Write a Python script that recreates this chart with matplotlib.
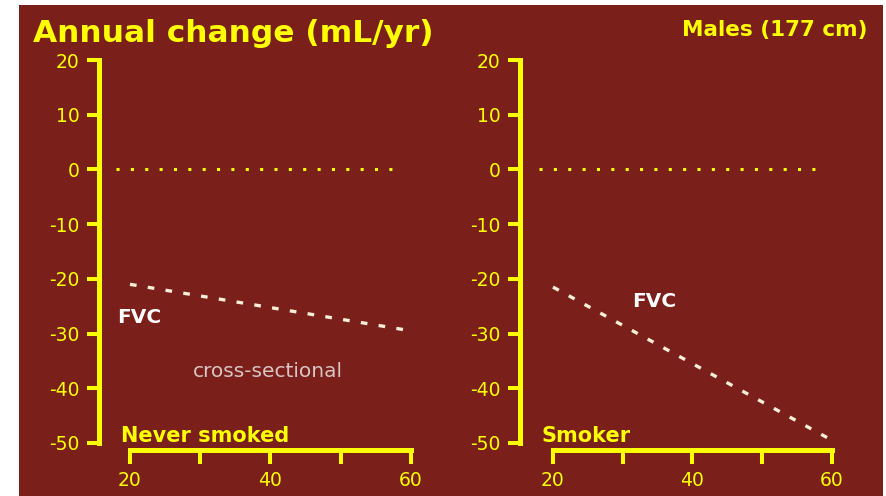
import matplotlib.pyplot as plt
from matplotlib.patches import Rectangle

plt.rcParams['axes.unicode_minus'] = False  # 用普通的减号

# 数据
ages = [20, 60]
never_fvc = [-21, -29.5]
smoker_fvc = [-21.5, -49.5]
zero_x = [18, 58]
zero_y = [0, 0]
y_ticks = [20, 10, 0, -10, -20, -30, -40, -50]
x_ticks = [20, 30, 40, 50, 60]
x_labels = ['20', '', '40', '', '60']

bg = '#7a1f19'
yellow = '#ffff00'
cream = '#f6eed6'

fig = plt.figure(figsize=(8.87, 4.96), dpi=100)
fig.patches.append(Rectangle((19 / 887, 0), (883 - 19) / 887, 491 / 496,
                             transform=fig.transFigure, facecolor=bg,
                             edgecolor='none', zorder=-10))


def setup(ax, xlim):
    ax.set_facecolor('none')
    ax.set_xlim(*xlim)
    ax.set_ylim(-51.28, 20.55)
    for s in ['top', 'right']:
        ax.spines[s].set_visible(False)
    for s in ['left', 'bottom']:
        ax.spines[s].set_color(yellow)
        ax.spines[s].set_linewidth(3.6)
    ax.spines['left'].set_bounds(-50, 20)
    ax.spines['bottom'].set_bounds(20, 60)
    ax.set_yticks(y_ticks)
    ax.set_xticks(x_ticks)
    ax.set_xticklabels(x_labels)
    ax.tick_params(axis='y', colors=yellow, length=9, width=2.9, pad=5,
                   labelsize=13.5)
    ax.tick_params(axis='x', colors=yellow, length=10, width=2.9, pad=5,
                   labelsize=13.5)
    ax.plot(zero_x, zero_y, color=yellow, lw=2.2, dashes=(1, 3.7),
            solid_capstyle='butt', dash_capstyle='butt', clip_on=False)


# 左图 never smoked
ax1 = fig.add_axes([99 / 887, 46 / 496, 321 / 887, 393 / 496])
setup(ax1, (15.59, 61.28))
ax1.plot(ages, never_fvc, color=cream, lw=2.4, dashes=(2, 3.4), clip_on=False)
ax1.text(21.3, -27.0, 'FVC', color='white', fontsize=14.5, fontweight='bold',
         ha='center', va='center')
ax1.text(39.6, -37.0, 'cross-sectional', color='#d9c4c4', fontsize=14.5,
         ha='center', va='center')
ax1.text(18.7, -48.7, 'Never smoked', color=yellow, fontsize=15,
         fontweight='bold', ha='left', va='center', clip_on=False)

# 右图 smoker
ax2 = fig.add_axes([520 / 887, 46 / 496, 320 / 887, 393 / 496])
setup(ax2, (15.27, 61.15))
ax2.plot(ages, smoker_fvc, color=cream, lw=2.4, dashes=(2, 3.4), clip_on=False)
ax2.text(34.5, -24.2, 'FVC', color='white', fontsize=14.5, fontweight='bold',
         ha='center', va='center')
ax2.text(18.3, -48.7, 'Smoker', color=yellow, fontsize=15,
         fontweight='bold', ha='left', va='center', clip_on=False)

fig.text(33 / 887, 1 - 33 / 496, 'Annual change (mL/yr)', color=yellow,
         fontsize=22.5, fontweight='bold', ha='left', va='center')
fig.text(868 / 887, 1 - 30 / 496, 'Males (177 cm)', color=yellow,
         fontsize=15.5, fontweight='bold', ha='right', va='center')

plt.savefig('out.png', dpi=100, facecolor='white')
